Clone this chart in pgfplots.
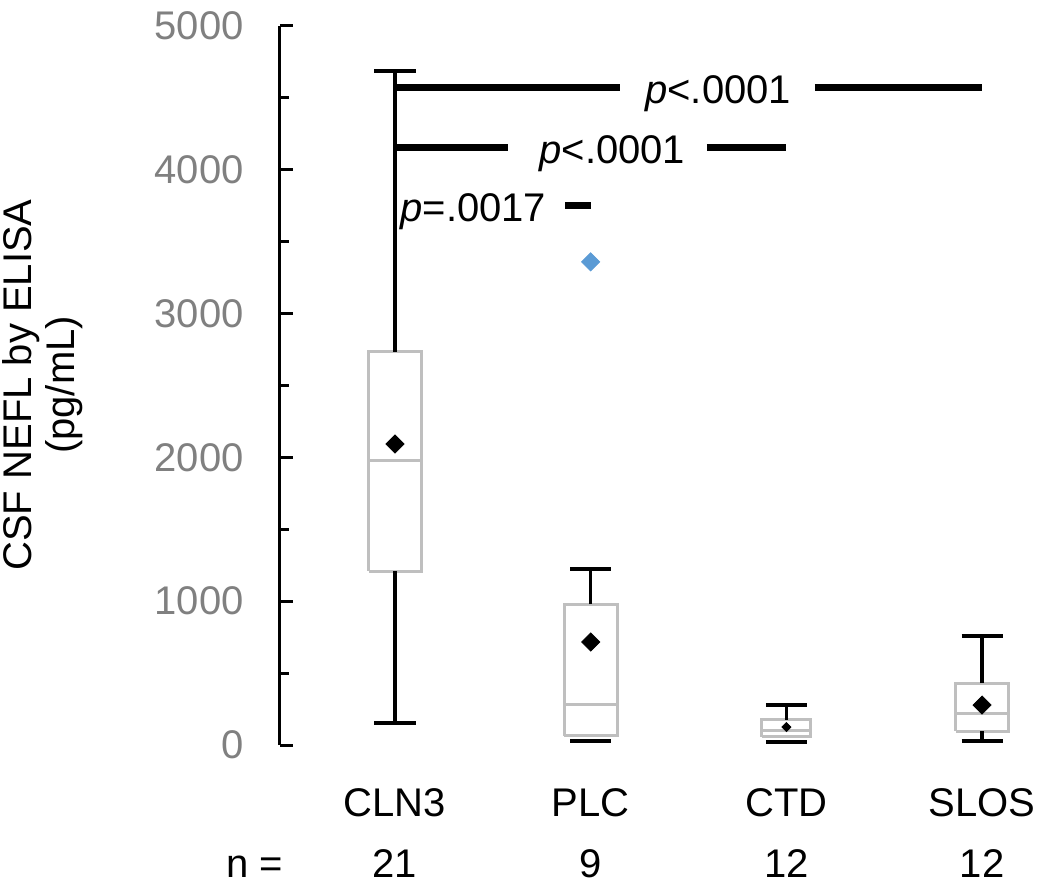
\documentclass[border=0pt]{standalone}
\usepackage{pgfplots}
\pgfplotsset{compat=1.18}
\usepackage{fontspec}
\setmainfont{Liberation Sans}
\definecolor{boxgray}{HTML}{BFBFBF}
\definecolor{tickgray}{HTML}{808080}
\definecolor{outblue}{HTML}{5B9BD5}
\begin{document}
\begin{tikzpicture}[font=\fontsize{20bp}{24bp}\selectfont]
\useasboundingbox (-140bp,-71bp) rectangle (385bp,372.5bp);
\begin{axis}[
  at={(0,0)}, anchor=south west,
  scale only axis, width=380.4bp, height=359.5bp,
  xmin=0.4124, xmax=4.3, ymin=0, ymax=5000,
  axis y line=left, axis x line=bottom,
  x axis line style={draw=none},
  xtick=\empty,
  y axis line style={-, black, line width=1.5bp},
  ytick={0,1000,...,5000}, minor ytick={500,1500,...,4500},
  tick align=inside,
  major tick length=6.5bp, minor tick length=4.5bp,
  ytick style={black, line width=1.5bp},
  yticklabel style={text=tickgray, inner sep=0pt, xshift=-18bp},
  /pgf/number format/assume math mode=true,
  /pgf/number format/1000 sep={},
  clip=false, unbounded coords=jump,
  boxline/.style={draw=boxgray, line width=1.5bp, line join=miter},
  whisk/.style={black, line width=1.6bp},
]
% boxes: q1 -> q3 (box extend 0.27)
\addplot[boxline] coordinates {(0.865,1210) (1.135,1210) (1.135,2733) (0.865,2733) (0.865,1210)};
\addplot[boxline] coordinates {(1.865,63) (2.135,63) (2.135,980) (1.865,980) (1.865,63)};
\addplot[boxline] coordinates {(2.875,56) (3.125,56) (3.125,174) (2.875,174) (2.875,56)};
\addplot[boxline] coordinates {(3.865,97) (4.135,97) (4.135,431) (3.865,431) (3.865,97)};
% medians
\addplot[boxline] coordinates {(0.865,1975) (1.135,1975) (nan,nan) (1.865,285) (2.135,285)
  (nan,nan) (2.875,104) (3.125,104) (nan,nan) (3.865,216) (4.135,216)};
% whiskers and caps
\addplot[whisk] coordinates {(1,2733) (1,4687) (nan,nan) (0.895,4687) (1.105,4687)
  (nan,nan) (1,1210) (1,153) (nan,nan) (0.895,153) (1.105,153)};
\addplot[whisk] coordinates {(2,980) (2,1224) (nan,nan) (1.895,1224) (2.105,1224)
  (nan,nan) (1.895,28) (2.105,28)};
\addplot[whisk] coordinates {(3,174) (3,278) (nan,nan) (2.895,278) (3.105,278)
  (nan,nan) (2.895,21) (3.105,21)};
\addplot[whisk] coordinates {(4,431) (4,758) (nan,nan) (3.895,758) (4.105,758)
  (nan,nan) (4,97) (4,28) (nan,nan) (3.895,28) (4.105,28)};

% means
\addplot[only marks, mark=square*, mark size=3.2bp,
  mark options={black, fill=black, rotate=45}] coordinates {(1,2093) (2,716) (4,278)};
\addplot[only marks, mark=square*, mark size=1.6bp,
  mark options={black, fill=black, rotate=45}] coordinates {(3,125)};
% outlier
\addplot[only marks, mark=square*, mark size=3.2bp,
  mark options={draw=outblue, fill=outblue, rotate=45}] coordinates {(2,3360)};

% significance bars
\draw[line width=3.5bp] (axis cs:1,4569) -- (axis cs:2.150,4569);
\draw[line width=3.5bp] (axis cs:3.146,4569) -- (axis cs:4,4569);
\draw[line width=3.5bp] (axis cs:1,4158) -- (axis cs:1.577,4158);
\draw[line width=3.5bp] (axis cs:2.594,4158) -- (axis cs:3,4158);
\draw[line width=3.5bp] (axis cs:1.869,3755) -- (axis cs:2,3755);
\node[anchor=base west, inner sep=0pt, yshift=-8bp] at (axis cs:2.277,4569) {\itshape p\upshape <.0001};
\node[anchor=base west, inner sep=0pt, yshift=-8bp] at (axis cs:1.736,4158) {\itshape p\upshape <.0001};
\node[anchor=base west, inner sep=0pt, yshift=-8bp] at (axis cs:1.026,3755) {\itshape p\upshape =.0017};

% category names and group sizes
\node[anchor=base] at (axis cs:1,-494) {CLN3};
\node[anchor=base] at (axis cs:2,-494) {PLC};
\node[anchor=base] at (axis cs:3,-494) {CTD};
\node[anchor=base] at (axis cs:4,-494) {SLOS};
\node[anchor=base] at (axis cs:0.2846,-918) {n =};
\node[anchor=base] at (axis cs:1,-918) {21};
\node[anchor=base] at (axis cs:2,-918) {9};
\node[anchor=base] at (axis cs:3,-918) {12};
\node[anchor=base] at (axis cs:4,-918) {12};
\end{axis}
\node[rotate=90, align=center, font=\fontsize{20bp}{21.5bp}\selectfont] at (-118.5bp,180bp)
  {CSF NEFL by ELISA\\(pg/mL)};
\end{tikzpicture}
\end{document}
